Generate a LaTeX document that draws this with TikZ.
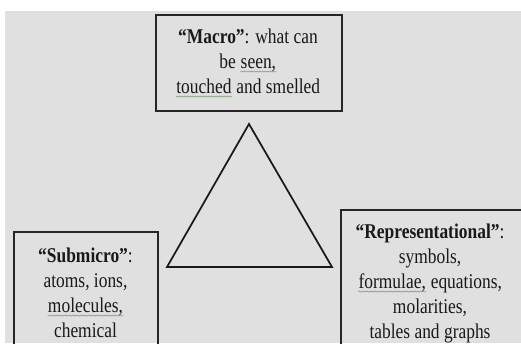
\documentclass[tikz,border=0pt]{standalone}
\usepackage{fontspec}
\setmainfont[FakeStretch=0.83]{Liberation Serif}
\usetikzlibrary{decorations.pathmorphing}
\definecolor{slidegray}{RGB}{224,224,224}
\definecolor{spellgreen}{RGB}{120,160,110}
\tikzset{
  levelbox/.style={draw=black!85, line width=1.3pt, inner sep=0pt, anchor=north west},
  leveltext/.style={align=center, inner sep=0pt, anchor=north, text=black!90,
    font=\fontsize{15.75}{18.75}\selectfont},
  squiggle/.style={spellgreen, line width=0.4pt, decorate,
    decoration={snake, amplitude=0.45pt, segment length=2pt}}
}
\newcommand\spellmark[1]{\tikz[x=1pt,y=1pt,baseline=(sw.base)]{%
  \node[inner sep=0pt] (sw) {#1};
  \draw[squiggle] ([yshift=-2.4pt]sw.base west) -- ([yshift=-2.4pt]sw.base east);}}
\begin{document}
\begin{tikzpicture}[x=0.75pt,y=-0.75pt]
\useasboundingbox (0,0) rectangle (521,343);
\clip (0,0) rectangle (521,343);
\fill[slidegray] (5,11) rectangle (521,343);
% the three levels
\node[levelbox, minimum width=139.5pt, minimum height=72pt] (macrobox) at (155,14){};
\node[levelbox, minimum width=108pt, minimum height=112pt] (subbox) at (13,231){};
\node[levelbox, minimum width=150pt, minimum height=120pt] (repbox) at (340,209){};
\node[leveltext] (macrotext) at (248,28.5){\textbf{“Macro”}: what can\\be \spellmark{seen,}\\\spellmark{touched} and smelled};
\node[leveltext] (subtext) at (85.5,247.5){\textbf{“Submicro”}:\\atoms, ions,\\\spellmark{molecules,}\\chemical};
\node[leveltext] (reptext) at (430,223.5){\textbf{“Representational”}:\\symbols,\\\spellmark{formulae,} equations,\\molarities,\\tables and graphs};
% triangle
\coordinate (top) at (249,124);
\coordinate (baseL) at (167,267);
\coordinate (baseR) at (332,267);
\draw[line width=1.3pt, black!90] (top) -- (baseL) -- (baseR) -- cycle;
\end{tikzpicture}
\end{document}
